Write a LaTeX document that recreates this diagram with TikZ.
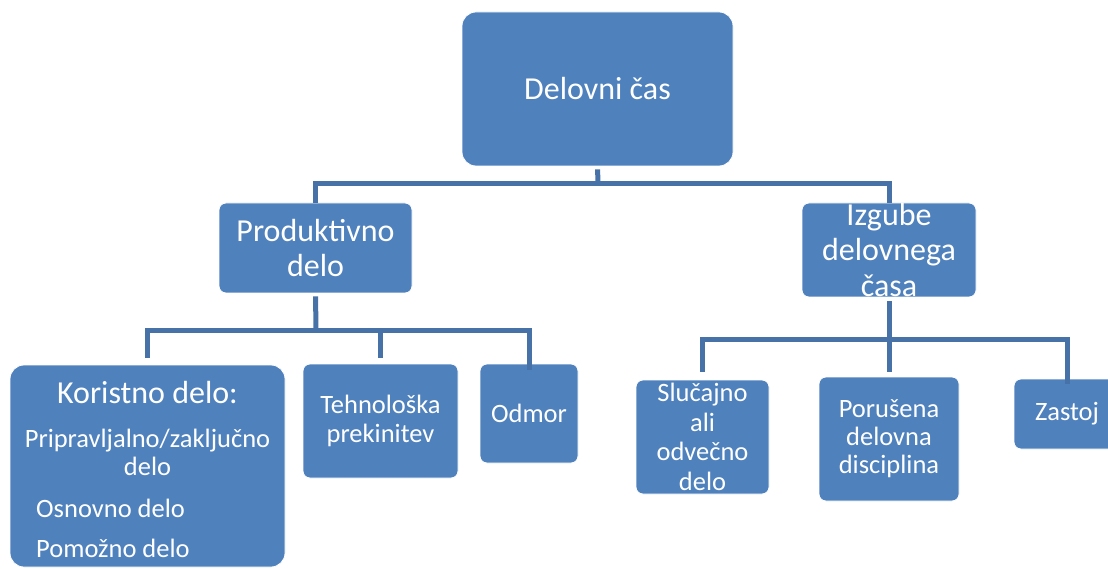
\documentclass[tikz,border=0pt]{standalone}
\usepackage{fontspec}
\setmainfont{Carlito}
\definecolor{boxblue}{HTML}{4F81BD}
\definecolor{linkblue}{HTML}{4672A8}
\begin{document}
\begin{tikzpicture}[x=1pt,y=-1pt,
  box/.style={fill=boxblue,draw=white,line width=0.8pt,rounded corners=7pt,text=white,align=center,inner sep=0pt},
  big/.style={font=\fontsize{32}{35.5}\selectfont},
  small/.style={font=\fontsize{26.5}{29.5}\selectfont},
  conn/.style={draw=linkblue,line width=5pt}]
\useasboundingbox (0,0) rectangle (1108,569);
% boxes
\node[box,big,rounded corners=14pt,minimum width=271pt,minimum height=154pt] (top) at (597.5,89) {Delovni čas};
\node[box,big,minimum width=193pt,minimum height=90pt] (prod) at (315.5,248) {Produktivno\\delo};
\node[box,big,minimum width=174pt,minimum height=94pt] (izg) at (889,250) {Izgube\\delovnega\\časa};
\node[box,rounded corners=14pt,minimum width=275pt,minimum height=202pt] (kor) at (147.5,466) {};
\node[text=white,big,anchor=base,inner sep=0pt] (k1) at (147.5,403) {Koristno delo:};
\node[text=white,small,anchor=base,align=center,inner sep=0pt,font=\fontsize{26.5}{28}\selectfont] (k2) at (147.5,475) {Pripravljalno/zaključno\\delo};
\node[text=white,small,anchor=base west,inner sep=0pt] (k3) at (36,517) {Osnovno delo};
\node[text=white,small,anchor=base west,inner sep=0pt] (k4) at (36,557) {Pomožno delo};
\node[box,small,minimum width=155pt,minimum height=114pt] (teh) at (380.5,421) {Tehnološka\\prekinitev};
\node[box,small,minimum width=98pt,minimum height=99pt] (odm) at (529,413.5) {Odmor};
\node[box,small,minimum width=133pt,minimum height=114pt] (slu) at (702.5,437) {Slučajno\\ali\\odvečno\\delo};
\node[box,small,minimum width=140pt,minimum height=124pt,font=\fontsize{26.5}{28}\selectfont] (por) at (889,439) {Porušena\\delovna\\disciplina};
\node[box,small,minimum width=106pt,minimum height=70pt] (zas) at (1067,414) {Zastoj};
% junctions
\coordinate (j1) at (598,184);
\coordinate (j2) at (316,330);
\coordinate (j3) at (889,339);
% connectors
\draw[conn,shorten <=3pt] (top.south) -- (j1);
\draw[conn] (prod.north) |- (j1) -| (izg.north);
\draw[conn,shorten <=3pt] (prod.south) -- (j2);
\draw[conn,shorten <=7pt] (kor.north) |- (j2) -| ([yshift=-6pt]odm.north);
\draw[conn,shorten <=6pt] (teh.north) -- (teh.north |- j2);
\draw[conn,shorten <=4pt] (izg.south) -- (j3);
\draw[conn,shorten <=8pt] (slu.north) |- (j3) -| ([yshift=-5pt]zas.north);
\draw[conn,shorten <=5pt] (por.north) -- (j3);
\end{tikzpicture}
\end{document}
